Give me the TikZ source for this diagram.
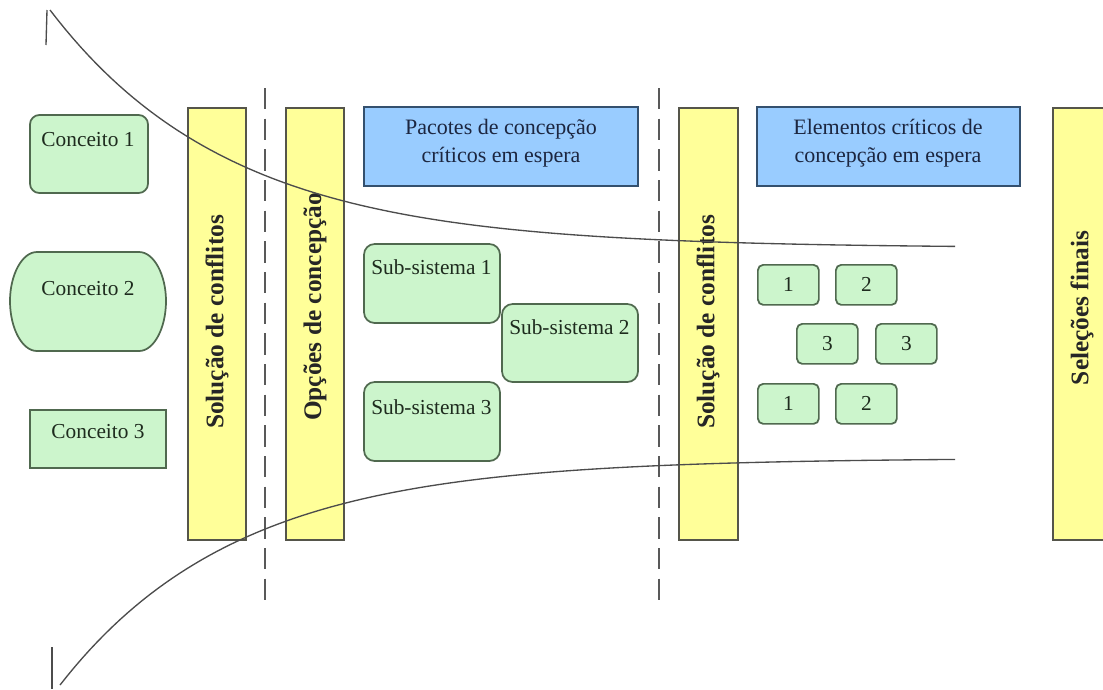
\documentclass[tikz,border=0pt]{standalone}
\usepackage{fontspec}
\setmainfont{Liberation Serif}
\usetikzlibrary{positioning}

\definecolor{boxgreen}{HTML}{CCF5CC}
\definecolor{edgegreen}{HTML}{50694F}
\definecolor{baryellow}{HTML}{FFFF99}
\definecolor{edgegray}{HTML}{55554A}
\definecolor{boxblue}{HTML}{99CCFF}
\definecolor{edgeblue}{HTML}{34506E}
\definecolor{inkgreen}{HTML}{1E2B1E}
\definecolor{inkblue}{HTML}{1C2640}

\tikzset{
  concept/.style={draw=edgegreen, fill=boxgreen, line width=1.3pt},
  bar/.style={draw=edgegray, fill=baryellow, line width=1pt},
  waiting/.style={draw=edgeblue, fill=boxblue, line width=1pt},
  boxtext/.style={font=\fontsize{16}{20}\selectfont, text=inkgreen, inner sep=0pt},
  bartext/.style={font=\fontsize{19}{22}\selectfont\bfseries, text=black!85, rotate=90, inner sep=0pt},
  waittext/.style={font=\fontsize{16.5}{21}\selectfont, text=inkblue, align=center, inner sep=0pt},
  elem/.style={concept, rounded corners=4pt, anchor=north west, minimum width=45.75pt,
    minimum height=30pt, inner sep=0pt, font=\fontsize{16}{20}\selectfont, text=inkgreen},
  funnel/.style={draw=black!70, line width=1pt},
  divider/.style={draw=black!65, line width=1pt, dash pattern=on 16pt off 7pt}
}

\begin{document}
\begin{tikzpicture}[x=0.75pt, y=-0.75pt]
\useasboundingbox (0,0) rectangle (1103,689);
\fill[white] (0,0) rectangle (1103,689);
\clip (0,0) rectangle (1103,689);

% concepts
\draw[concept, rounded corners=7pt] (30,115) rectangle (148,193);
\node[boxtext, anchor=base] (conc1) at (88,146) {Conceito 1};
\draw[concept] (37,252) -- (139,252) .. controls (154,252) and (166,275) .. (166,301)
  .. controls (166,328) and (154,351) .. (139,351) -- (37,351)
  .. controls (22,351) and (10,328) .. (10,301) .. controls (10,275) and (22,252) .. (37,252) -- cycle;
\node[boxtext, anchor=base] (conc2) at (88,295) {Conceito 2};
\draw[concept] (30,410) rectangle (166,468);
\node[boxtext, anchor=base] (conc3) at (98,438) {Conceito 3};

% bars
\draw[bar] (188,108) rectangle (246,540);
\node[bartext] (solve1) at (217,322) {Solução de conflitos};
\draw[bar] (286,108) rectangle (344,540);
\node[bartext] (options) at (315,307) {Opções de concepção};
\draw[bar] (679,108) rectangle (738,540);
\node[bartext] (solve2) at (708,322) {Solução de conflitos};
\draw[bar] (1053,108) rectangle (1115,540);
\node[bartext] (final) at (1082,308) {Seleções finais};

% dividers
\draw[divider] (265,88) -- (265,600);
\draw[divider] (659,88) -- (659,600);

% waiting boxes
\draw[waiting] (364,107) rectangle (638,186);
\node[waittext] (packs) at (501,143) {Pacotes de concepção\\críticos em espera};
\draw[waiting] (757,107) rectangle (1020,186);
\node[waittext] (elems) at (888,143) {Elementos críticos de\\concepção em espera};

% sub-systems
\draw[concept, rounded corners=8pt] (364,244) rectangle (500,323);
\node[boxtext, anchor=base west] (sub1) at (371,274) {Sub-sistema 1};
\draw[concept, rounded corners=8pt] (502,304) rectangle (638,382);
\node[boxtext, anchor=base west] (sub2) at (509,334) {Sub-sistema 2};
\draw[concept, rounded corners=8pt] (364,382) rectangle (500,461);
\node[boxtext, anchor=base west] (sub3) at (371,414) {Sub-sistema 3};

% critical elements
\node[elem] (ea1) at (757,264) {1};
\node[elem] (ea2) at (835,264) {2};
\node[elem] (eb3) at (796,323) {3};
\node[elem] (ec3) at (875,323) {3};
\node[elem] (ed1) at (757,383) {1};
\node[elem] (ed2) at (835,383) {2};

% funnel
\draw[funnel] (47,10) -- (46,45);
\draw[funnel] plot[domain=50:955, samples=120] (\x, {248-238*exp(-(\x-50)/181)});
\draw[funnel] (52,647) -- (52,689);
\draw[funnel] plot[domain=60:955, samples=120] (\x, {458+227*exp(-(\x-60)/176.6)});

\end{tikzpicture}
\end{document}
